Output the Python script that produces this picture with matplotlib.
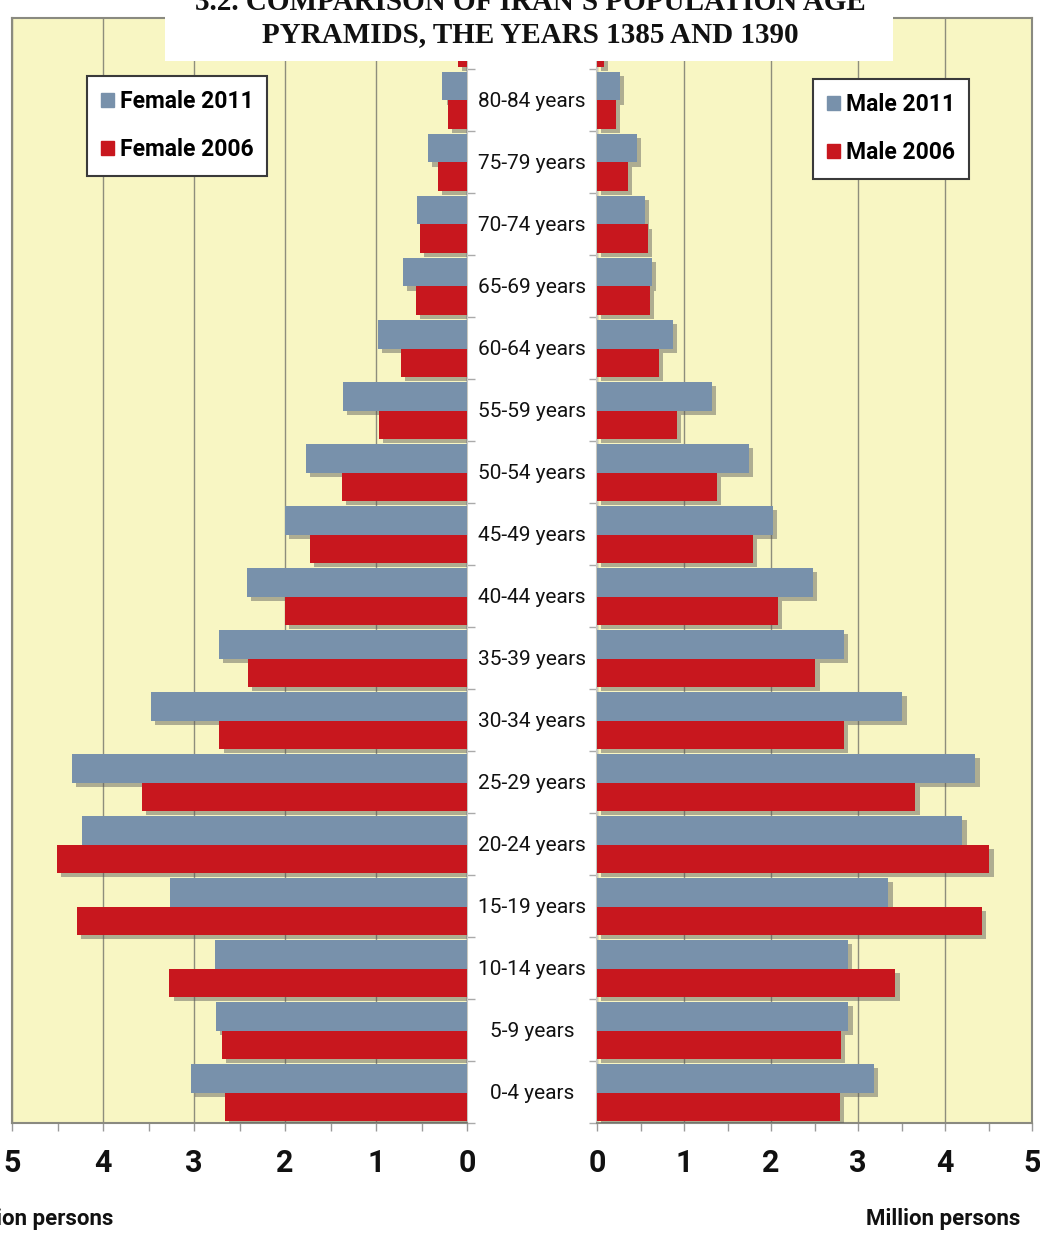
import matplotlib.pyplot as plt
import matplotlib.patheffects as pe
from matplotlib.patches import Rectangle, Patch
from matplotlib.transforms import blended_transform_factory
import numpy as np

# age groups, youngest first (85+ is mostly hidden under the title box)
ages = ['0-4 years', '5-9 years', '10-14 years', '15-19 years', '20-24 years',
        '25-29 years', '30-34 years', '35-39 years', '40-44 years', '45-49 years',
        '50-54 years', '55-59 years', '60-64 years', '65-69 years', '70-74 years',
        '75-79 years', '80-84 years', '85+ years']

# million persons
female_2011 = [3.03, 2.76, 2.77, 3.26, 4.23, 4.34, 3.47, 2.73, 2.42, 2.00,
               1.77, 1.36, 0.98, 0.70, 0.55, 0.43, 0.27, 0.15]
female_2006 = [2.66, 2.69, 3.27, 4.29, 4.51, 3.57, 2.72, 2.41, 2.00, 1.73,
               1.37, 0.97, 0.73, 0.56, 0.52, 0.32, 0.21, 0.10]
male_2011 = [3.18, 2.89, 2.88, 3.35, 4.20, 4.35, 3.51, 2.84, 2.48, 2.02,
             1.75, 1.32, 0.87, 0.63, 0.55, 0.46, 0.26, 0.15]
male_2006 = [2.79, 2.80, 3.43, 4.42, 4.51, 3.66, 2.84, 2.51, 2.08, 1.79,
             1.38, 0.92, 0.71, 0.61, 0.59, 0.36, 0.22, 0.08]

xticks = [0, 1, 2, 3, 4, 5]

GRAY = '#7891AB'
RED = '#C8171E'
BG = '#F8F6C3'
GRID = '#8E8E7C'
NARROW = ['Liberation Sans Narrow', 'Roboto', 'DejaVu Sans']

W, H = 1040, 1235
fig = plt.figure(figsize=(W / 100, H / 100), dpi=100)

bottom = 1 - 1123 / H
height = (1123 - 18) / H
ax_l = fig.add_axes([12 / W, bottom, (467 - 12) / W, height])
ax_r = fig.add_axes([597 / W, bottom, (1032 - 597) / W, height])

y = np.arange(len(ages))
shadow = [pe.SimplePatchShadow(offset=(3, -3), shadow_rgbFace='#555555', alpha=0.45),
          pe.Normal()]

for ax, v11, v06 in [(ax_l, female_2011, female_2006), (ax_r, male_2011, male_2006)]:
    ax.set_facecolor(BG)
    b1 = ax.barh(y + 0.22, v11, height=0.46, color=GRAY, zorder=3)
    b2 = ax.barh(y - 0.24, v06, height=0.46, color=RED, zorder=3)
    for b in list(b1) + list(b2):
        b.set_path_effects(shadow)
    ax.set_ylim(-0.5, 17.32)
    ax.set_xticks(xticks)
    ax.set_xticks(np.arange(0.5, 5, 1.0), minor=True)
    ax.grid(axis='x', color=GRID, linewidth=1.0, zorder=1)
    ax.set_axisbelow(True)
    ax.set_yticks(np.arange(-0.5, 17.5, 1.0))
    ax.set_yticklabels([])
    ax.tick_params(axis='x', which='both', direction='out', length=6, width=1,
                   color='#9A9A9A', pad=12)
    ax.tick_params(axis='y', direction='out', length=6, width=1, color='#AAAAAA')
    for lab in ax.get_xticklabels():
        lab.set_fontsize(22)
        lab.set_fontweight('bold')
        lab.set_family(NARROW)
        lab.set_color('#111111')
    for s in ax.spines.values():
        s.set_color('#8A8A80')
        s.set_linewidth(1.5)

ax_l.set_xlim(5, 0)
ax_r.set_xlim(0, 5)
ax_l.yaxis.tick_right()
ax_l.spines['right'].set_color('#C8C8C0')
ax_r.spines['left'].set_color('#C8C8C0')

# age labels in the white gap
trans = blended_transform_factory(fig.transFigure, ax_r.transData)
for i, a in enumerate(ages):
    ax_r.text(532 / W, i - 0.02, a, transform=trans, ha='center', va='center',
              fontsize=15, family=NARROW, color='#111111', clip_on=False)

# legends
leg_kw = dict(handlelength=0.55, handleheight=0.55, handletextpad=0.25,
              labelspacing=1.1, borderpad=0.62, fancybox=False, framealpha=1,
              edgecolor='#3A3A3A', borderaxespad=0, loc='upper left',
              bbox_transform=fig.transFigure,
              prop={'family': NARROW, 'weight': 'bold', 'size': 16.5})
lg = ax_l.legend([Patch(color=GRAY), Patch(color=RED)], ['Female 2011', 'Female 2006'],
                 bbox_to_anchor=(87 / W, 1 - 76 / H), **leg_kw)
lg.get_frame().set_linewidth(1.5)
lg2 = ax_r.legend([Patch(color=GRAY), Patch(color=RED)], ['Male 2011', 'Male 2006'],
                  bbox_to_anchor=(813 / W, 1 - 79 / H), **leg_kw)
lg2.get_frame().set_linewidth(1.5)

# axis captions (left one runs off the page edge as in the original)
fig.text(113 / W, 1 - 1219 / H, 'Million persons', ha='right', va='center',
         fontsize=16, fontweight='bold', family=NARROW, color='#111111')
fig.text(1020 / W, 1 - 1219 / H, 'Million persons', ha='right', va='center',
         fontsize=16, fontweight='bold', family=NARROW, color='#111111')

# title box on top of the chart
fig.patches.append(Rectangle((165 / W, 1 - 61 / H), (893 - 165) / W, 61 / H + 0.01,
                             transform=fig.transFigure, facecolor='white',
                             edgecolor='none', zorder=10))
fig.text(530 / W, 1 - 10 / H, "3.2. COMPARISON OF IRAN'S POPULATION AGE",
         ha='center', va='baseline', fontsize=21, fontweight='bold',
         family='Liberation Serif', color='#111111', zorder=11)
fig.text(530 / W, 1 - 42 / H, 'PYRAMIDS, THE YEARS 1385 AND 1390',
         ha='center', va='baseline', fontsize=21, fontweight='bold',
         family='Liberation Serif', color='#111111', zorder=11)

fig.savefig('out.png', dpi=100)
